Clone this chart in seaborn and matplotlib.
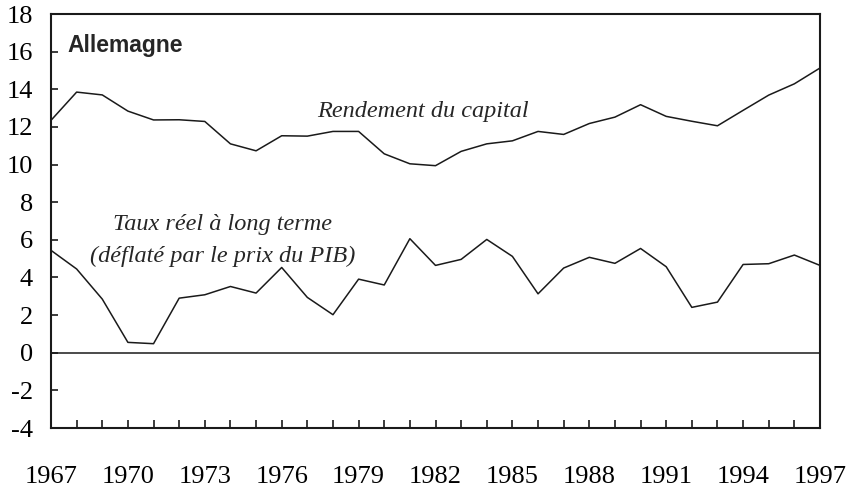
import matplotlib
matplotlib.use("Agg")
import matplotlib.pyplot as plt
import seaborn as sns
import pandas as pd

years = list(range(1967, 1998))
rendement_capital = [12.35, 13.85, 13.7, 12.84, 12.37, 12.38, 12.29, 11.1, 10.73, 11.53,
                     11.51, 11.76, 11.76, 10.57, 10.04, 9.94, 10.7, 11.1, 11.26, 11.76,
                     11.6, 12.18, 12.52, 13.18, 12.56, 12.3, 12.06, 12.88, 13.69, 14.29, 15.13]
taux_reel = [5.44, 4.45, 2.85, 0.55, 0.48, 2.9, 3.08, 3.52, 3.17, 4.53,
             2.94, 2.02, 3.91, 3.6, 6.06, 4.64, 4.96, 6.02, 5.12, 3.13,
             4.5, 5.07, 4.75, 5.54, 4.57, 2.41, 2.69, 4.69, 4.73, 5.19, 4.64]
xtick_labels = [1967, 1970, 1973, 1976, 1979, 1982, 1985, 1988, 1991, 1994, 1997]
ytick_values = list(range(-4, 19, 2))

df = pd.DataFrame({"annee": years, "Rendement du capital": rendement_capital,
                   "Taux réel": taux_reel})

sns.set_style("ticks")
plt.rcParams["font.family"] = ["Liberation Serif", "DejaVu Serif"]

fig = plt.figure(figsize=(8.48, 4.86), dpi=100)
ax = fig.add_axes([51/848, 58/486, 769/848, 414/486])

lc = "#1a1a1a"
sns.lineplot(data=df, x="annee", y="Rendement du capital", ax=ax, color=lc, linewidth=1.1)
sns.lineplot(data=df, x="annee", y="Taux réel", ax=ax, color=lc, linewidth=1.1)
ax.axhline(0, color=lc, linewidth=1.1)

ax.set_xlim(1967, 1997)
ax.set_ylim(-4, 18)
ax.set_xlabel("")
ax.set_ylabel("")
ax.set_xticks(years, minor=True)
ax.set_xticks(xtick_labels)
ax.set_xticklabels([str(v) for v in xtick_labels])
ax.set_yticks(ytick_values)
ax.set_yticklabels([str(v) for v in ytick_values])

ax.tick_params(axis="x", which="both", direction="in", length=6, width=1.2, colors=lc,
               pad=27, labelsize=19, labelcolor="black")
ax.tick_params(axis="y", which="major", direction="in", length=5, width=1.2, colors=lc,
               pad=13, labelsize=19, labelcolor="black")

for s in ["left", "right", "top", "bottom"]:
    ax.spines[s].set_visible(True)
    ax.spines[s].set_linewidth(1.5)
    ax.spines[s].set_color(lc)

ax.text(0.022, 0.925, "Allemagne", transform=ax.transAxes, fontsize=16.5, fontweight="bold",
        family=["Liberation Sans", "DejaVu Sans"], ha="left", va="center")
ax.text(1981.5, 12.8, "Rendement du capital", fontsize=17.5, style="italic",
        ha="center", va="center")
ax.text(1973.7, 6.8, "Taux réel à long terme", fontsize=17.5, style="italic",
        ha="center", va="center")
ax.text(1973.7, 5.1, "(déflaté par le prix du PIB)", fontsize=17.5, style="italic",
        ha="center", va="center")

fig.savefig("out.png", dpi=100)
